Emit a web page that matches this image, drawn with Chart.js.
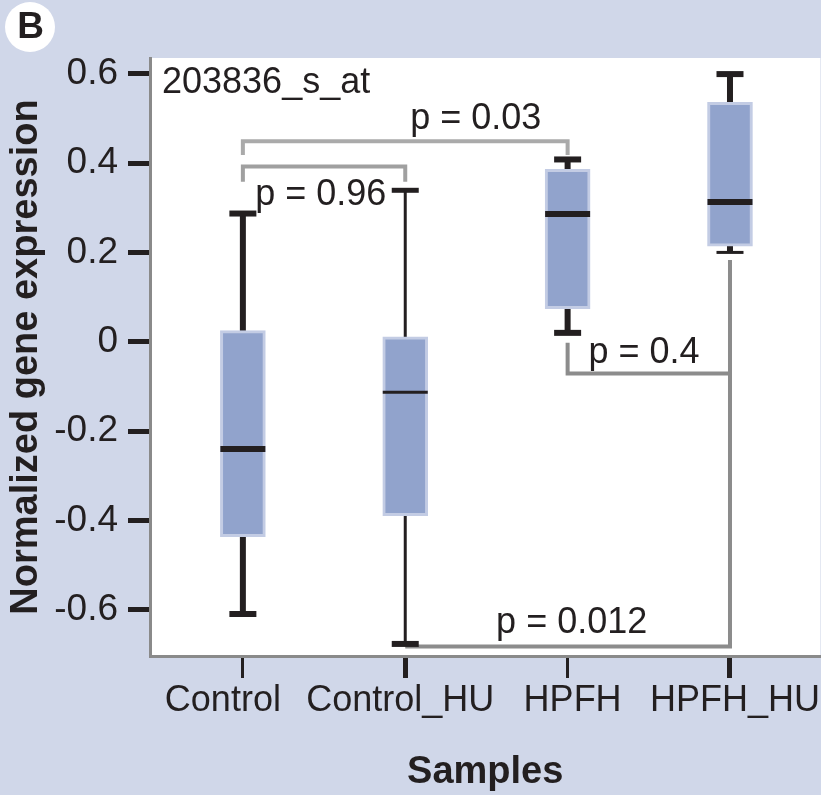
<!DOCTYPE html>
<html>
<head>
<meta charset="utf-8">
<script src="https://cdn.jsdelivr.net/npm/chart.js@4"></script>
<style>
  html, body { margin: 0; padding: 0; background: #d0d7e9; }
  canvas { display: block; }
</style>
</head>
<body>
<canvas id="boxChart" width="821" height="795"></canvas>
<script>
// ---- data ----
const samples = ['Control', 'Control_HU', 'HPFH', 'HPFH_HU'];
const whiskerLow = [-0.609, -0.676, 0.020, 0.200];
const boxLow = [-0.436, -0.389, 0.074, 0.214];
const medians = [-0.240, -0.113, 0.286, 0.313];
const boxHigh = [0.025, 0.011, 0.386, 0.536];
const whiskerHigh = [0.287, 0.339, 0.408, 0.599];

const yTicks = [0.6, 0.4, 0.2, 0, -0.2, -0.4, -0.6];
const yTickLabels = ['0.6', '0.4', '0.2', '0', '-0.2', '-0.4', '-0.6'];

const probeName = '203836_s_at';
const pLabels = ['p = 0.03', 'p = 0.96', 'p = 0.4', 'p = 0.012'];

// bracket paths in (sample index, value) units
const brackets = [
  [[0, 0.418], [0, 0.449], [2, 0.449], [2, 0.418]],
  [[0, 0.358], [0, 0.392], [1, 0.392], [1, 0.358]],
  [[2, -0.002], [2, -0.071], [3, -0.071]],
  [[1, -0.682], [3, -0.682], [3, 0.183]]
];
const pLabelAt = [[1.434, 0.476], [0.48, 0.306], [2.471, -0.048], [2.025, -0.652]];

// ---- styles ----
const ink = '#231f20';
const FONT = '"Liberation Sans", Arial, Helvetica, sans-serif';
const medianW = [6, 3, 6, 6];
const whiskerW = [6, 3, 6, 6];
const capLowW = [6, 6, 6, 3];
const capHighW = [6, 5, 6, 6];
const bracketColors = ['#aaaaaa', '#a0a0a0', '#8c8c8c', '#8c8c8c'];
// the original x labels sit a bit off their ticks; nudge with spaces (negative = shift left)
const labelNudge = [-4, -1, 1, 1];

const nudged = (text, n) => n < 0 ? text + ' '.repeat(-n) : ' '.repeat(n) + text;

const boxParts = {
  id: 'boxParts',
  beforeDraw(chart) {
    const { ctx, chartArea: a } = chart;
    ctx.save();
    ctx.fillStyle = '#d0d7e9';
    ctx.fillRect(0, 0, chart.width, chart.height);
    ctx.fillStyle = '#ffffff';
    ctx.fillRect(a.left, a.top, a.right - a.left, a.bottom - a.top);
    ctx.restore();
  },
  beforeDatasetsDraw(chart) {
    const { ctx, scales: { x, y } } = chart;
    ctx.save();
    ctx.strokeStyle = ink;
    samples.forEach((s, i) => {
      const px = x.getPixelForValue(i);
      ctx.lineWidth = whiskerW[i];
      ctx.beginPath();
      ctx.moveTo(px, y.getPixelForValue(whiskerLow[i]));
      ctx.lineTo(px, y.getPixelForValue(whiskerHigh[i]));
      ctx.stroke();
    });
    ctx.restore();
  },
  afterDatasetsDraw(chart) {
    const { ctx, scales: { x, y } } = chart;
    const bars = chart.getDatasetMeta(0).data;
    ctx.save();

    // significance brackets
    ctx.lineCap = 'butt';
    ctx.lineJoin = 'miter';
    brackets.forEach((path, k) => {
      ctx.strokeStyle = bracketColors[k];
      ctx.lineWidth = 4;
      ctx.beginPath();
      path.forEach(([i, v], j) => {
        const px = x.getPixelForValue(i), py = y.getPixelForValue(v);
        if (j === 0) ctx.moveTo(px, py); else ctx.lineTo(px, py);
      });
      ctx.stroke();
    });

    // caps and medians
    ctx.strokeStyle = ink;
    samples.forEach((s, i) => {
      const px = x.getPixelForValue(i);
      const half = bars[i].width / 2;
      const cap = 13.5;
      ctx.lineWidth = capLowW[i];
      ctx.beginPath();
      ctx.moveTo(px - cap, y.getPixelForValue(whiskerLow[i]));
      ctx.lineTo(px + cap, y.getPixelForValue(whiskerLow[i]));
      ctx.stroke();
      ctx.lineWidth = capHighW[i];
      ctx.beginPath();
      ctx.moveTo(px - cap, y.getPixelForValue(whiskerHigh[i]));
      ctx.lineTo(px + cap, y.getPixelForValue(whiskerHigh[i]));
      ctx.stroke();
      ctx.lineWidth = medianW[i];
      ctx.beginPath();
      ctx.moveTo(px - half, y.getPixelForValue(medians[i]));
      ctx.lineTo(px + half, y.getPixelForValue(medians[i]));
      ctx.stroke();
    });

    // p-value labels
    ctx.fillStyle = ink;
    ctx.font = '36px ' + FONT;
    ctx.textAlign = 'center';
    ctx.textBaseline = 'alphabetic';
    pLabels.forEach((t, k) => {
      const [i, v] = pLabelAt[k];
      ctx.fillText(t, x.getPixelForValue(i), y.getPixelForValue(v));
    });

    // probe name
    ctx.textAlign = 'left';
    ctx.fillText(probeName, chart.chartArea.left + 12, chart.chartArea.top + 35);
    ctx.restore();
  },
  afterDraw(chart) {
    const { ctx } = chart;
    ctx.save();
    ctx.fillStyle = '#ffffff';
    ctx.beginPath();
    ctx.arc(30, 27, 25, 0, Math.PI * 2);
    ctx.fill();
    ctx.fillStyle = ink;
    ctx.font = 'bold 37px ' + FONT;
    ctx.textAlign = 'center';
    ctx.textBaseline = 'middle';
    ctx.fillText('B', 30.5, 28);
    ctx.restore();
  }
};

new Chart(document.getElementById('boxChart'), {
  type: 'bar',
  data: {
    datasets: [{
      data: samples.map((s, i) => ({ x: i, y: [boxLow[i], boxHigh[i]] })),
      backgroundColor: '#91a3cc',
      borderColor: '#c3cce4',
      borderWidth: 3,
      borderSkipped: false,
      barThickness: 45
    }]
  },
  options: {
    responsive: false,
    animation: false,
    layout: { padding: { top: 58, left: 0, right: 0, bottom: 0 } },
    plugins: {
      legend: { display: false },
      tooltip: { enabled: false }
    },
    scales: {
      x: {
        type: 'linear',
        offset: false,
        min: -0.572,
        max: 3.557,
        afterBuildTicks: scale => { scale.ticks = samples.map((s, i) => ({ value: i })); },
        afterFit: scale => { scale.height = 139; },
        ticks: {
          autoSkip: false,
          maxRotation: 0,
          minRotation: 0,
          padding: 1,
          color: ink,
          font: { family: FONT, size: 36 },
          callback: value => {
            const i = Math.round(value);
            return nudged(samples[i], labelNudge[i]);
          }
        },
        grid: {
          offset: false,
          drawOnChartArea: false,
          drawTicks: true,
          tickLength: 22,
          tickColor: ink,
          tickWidth: ctx => [3, 5, 3, 5][ctx.index] || 3
        },
        border: { color: '#8a8a8a', width: 3 },
        title: {
          display: true,
          text: 'Samples',
          color: ink,
          font: { family: FONT, size: 38, weight: 'bold' },
          padding: { top: 0, bottom: 0 }
        }
      },
      y: {
        min: -0.703,
        max: 0.635,
        afterBuildTicks: scale => { scale.ticks = yTicks.map(v => ({ value: v })); },
        afterFit: scale => { scale.width = 150; },
        ticks: {
          padding: 10,
          color: ink,
          font: { family: FONT, size: 37 },
          callback: (value, index) => yTickLabels[index]
        },
        grid: {
          drawOnChartArea: false,
          drawTicks: true,
          tickLength: 22,
          tickColor: ink,
          tickWidth: 5
        },
        border: { color: '#8a8a8a', width: 3 },
        title: {
          display: true,
          text: 'Normalized gene expression',
          color: ink,
          font: { family: FONT, size: 38, weight: 'bold' },
          padding: { top: 4, bottom: 0 }
        }
      }
    }
  },
  plugins: [boxParts]
});
</script>
</body>
</html>
